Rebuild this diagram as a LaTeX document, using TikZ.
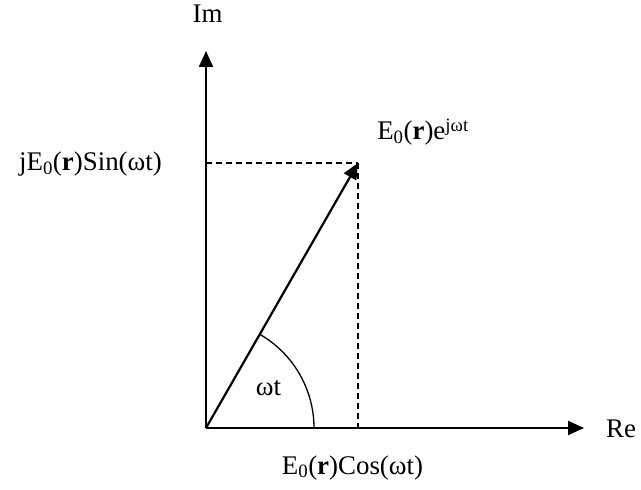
\documentclass[tikz,border=0pt]{standalone}
\usepackage{fontspec}
\setmainfont{Liberation Serif}
\usetikzlibrary{arrows.meta}
\begin{document}
\begin{tikzpicture}[x=1bp,y=-1bp,
  axis/.style={line width=2.2bp,-{Triangle[length=16bp,width=14bp]}},
  guide/.style={line width=1.3bp,dash pattern=on 6bp off 4bp},
  lbl/.style={inner sep=0pt,anchor=base,font=\fontsize{27}{31}\selectfont}]
\useasboundingbox (0,0) rectangle (641,490);
\coordinate (O) at (206,428);
\coordinate (ImT) at (206,51);
\coordinate (ReT) at (584,428);
\coordinate (P) at (358,163);
\coordinate (Py) at (206,163);
\coordinate (Px) at (358,428);
\coordinate (A) at (314,428);
\draw[guide] (Py) -- (P);
\draw[guide] (P) -- (Px);
\draw[axis] (O) -- (ImT);
\draw[axis] (O) -- (ReT);
\draw[axis] (O) -- (P);
\draw[line width=1.3bp] (A) arc[start angle=0,end angle=-60.2,radius=108];
\node[lbl] (im) at (207.5,23) {Im};
\node[lbl] (re) at (621,437) {Re};
\node[lbl] (ph) at (423,140) {E\textsubscript{0}(\textbf{r})e\textsuperscript{jωt}};
\node[lbl] (sn) at (90.5,171) {jE\textsubscript{0}(\textbf{r})Sin(ωt)};
\node[lbl] (wt) at (268.5,395) {ωt};
\node[lbl] (cs) at (352.5,474) {E\textsubscript{0}(\textbf{r})Cos(ωt)};
\end{tikzpicture}
\end{document}
